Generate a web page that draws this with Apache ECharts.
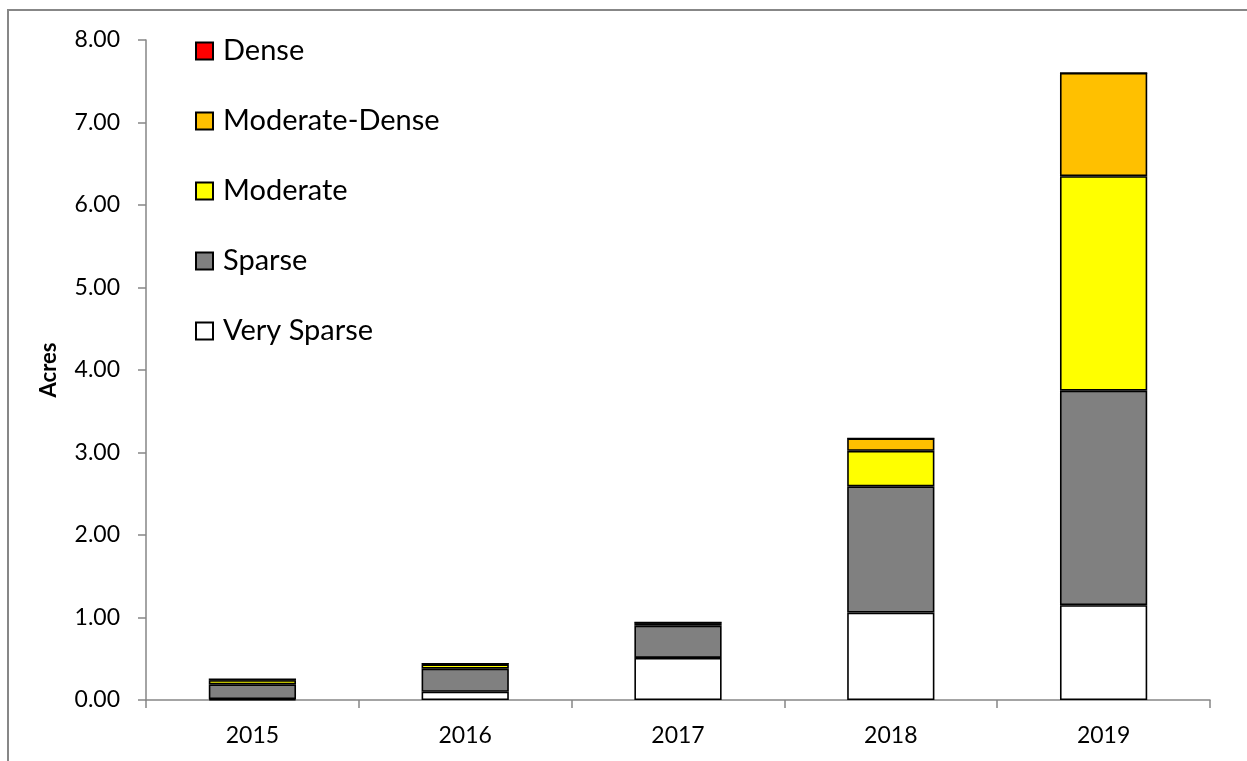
<!DOCTYPE html>
<html>
<head>
<meta charset="utf-8">
<script src="https://cdn.jsdelivr.net/npm/echarts@6/dist/echarts.min.js"></script>
<style>
html,body{margin:0;padding:0;background:#fff;}
#chart{width:1247px;height:761px;}
</style>
</head>
<body>
<div id="chart"></div>
<script>
const categories = ['2015', '2016', '2017', '2018', '2019'];
const verySparse = [0.01, 0.10, 0.51, 1.06, 1.15];
const sparse = [0.18, 0.28, 0.39, 1.53, 2.60];
const moderate = [0.05, 0.05, 0.03, 0.43, 2.60];
const moderateDense = [0.01, 0.01, 0.01, 0.15, 1.25];
const dense = [0, 0, 0, 0, 0];
const legendOrder = ['Dense', 'Moderate-Dense', 'Moderate', 'Sparse', 'Very Sparse'];

const FONT = 'Lato';
const chart = echarts.init(document.getElementById('chart'));

function mk(name, data, color) {
  return {
    name: name,
    type: 'bar',
    stack: 'total',
    data: data,
    barWidth: '41%',
    itemStyle: { color: color, borderColor: '#000', borderWidth: 1.6 },
    emphasis: { disabled: true }
  };
}

chart.setOption({
  animation: false,
  textStyle: { fontFamily: FONT },
  graphic: [{
    type: 'rect',
    shape: { x: 8, y: 10, width: 1400, height: 900 },
    style: { fill: 'none', stroke: '#878787', lineWidth: 2 },
    silent: true
  }],
  grid: { left: 146, right: 37, top: 40, bottom: 61 },
  legend: {
    orient: 'vertical',
    left: 190,
    top: 31,
    icon: 'rect',
    itemWidth: 17,
    itemHeight: 17,
    itemGap: 40,
    data: legendOrder,
    textStyle: { fontFamily: FONT, fontSize: 29, color: '#000', lineHeight: 30, padding: [0, 0, 0, 5] }
  },
  xAxis: {
    type: 'category',
    data: categories,
    axisLine: { lineStyle: { color: '#868686', width: 1.5 } },
    axisTick: { show: true, length: 8, lineStyle: { color: '#868686', width: 1.5 } },
    axisLabel: { color: '#000', fontSize: 23, fontFamily: FONT, margin: 24 }
  },
  yAxis: {
    type: 'value',
    min: 0,
    max: 8,
    interval: 1,
    name: 'Acres',
    nameLocation: 'middle',
    nameGap: 86,
    nameRotate: 90,
    nameTextStyle: { fontFamily: FONT, fontSize: 22, fontWeight: 'bold', color: '#000' },
    splitLine: { show: false },
    axisLine: { show: true, lineStyle: { color: '#868686', width: 1.5 } },
    axisTick: { show: true, length: 8, lineStyle: { color: '#868686', width: 1.5 } },
    axisLabel: {
      color: '#000', fontSize: 23, fontFamily: FONT, margin: 26,
      formatter: v => v.toFixed(2)
    }
  },
  series: [
    mk('Very Sparse', verySparse, '#FFFFFF'),
    mk('Sparse', sparse, '#808080'),
    mk('Moderate', moderate, '#FFFF00'),
    mk('Moderate-Dense', moderateDense, '#FFC000'),
    mk('Dense', dense, '#FF0000')
  ]
});
</script>
</body>
</html>
